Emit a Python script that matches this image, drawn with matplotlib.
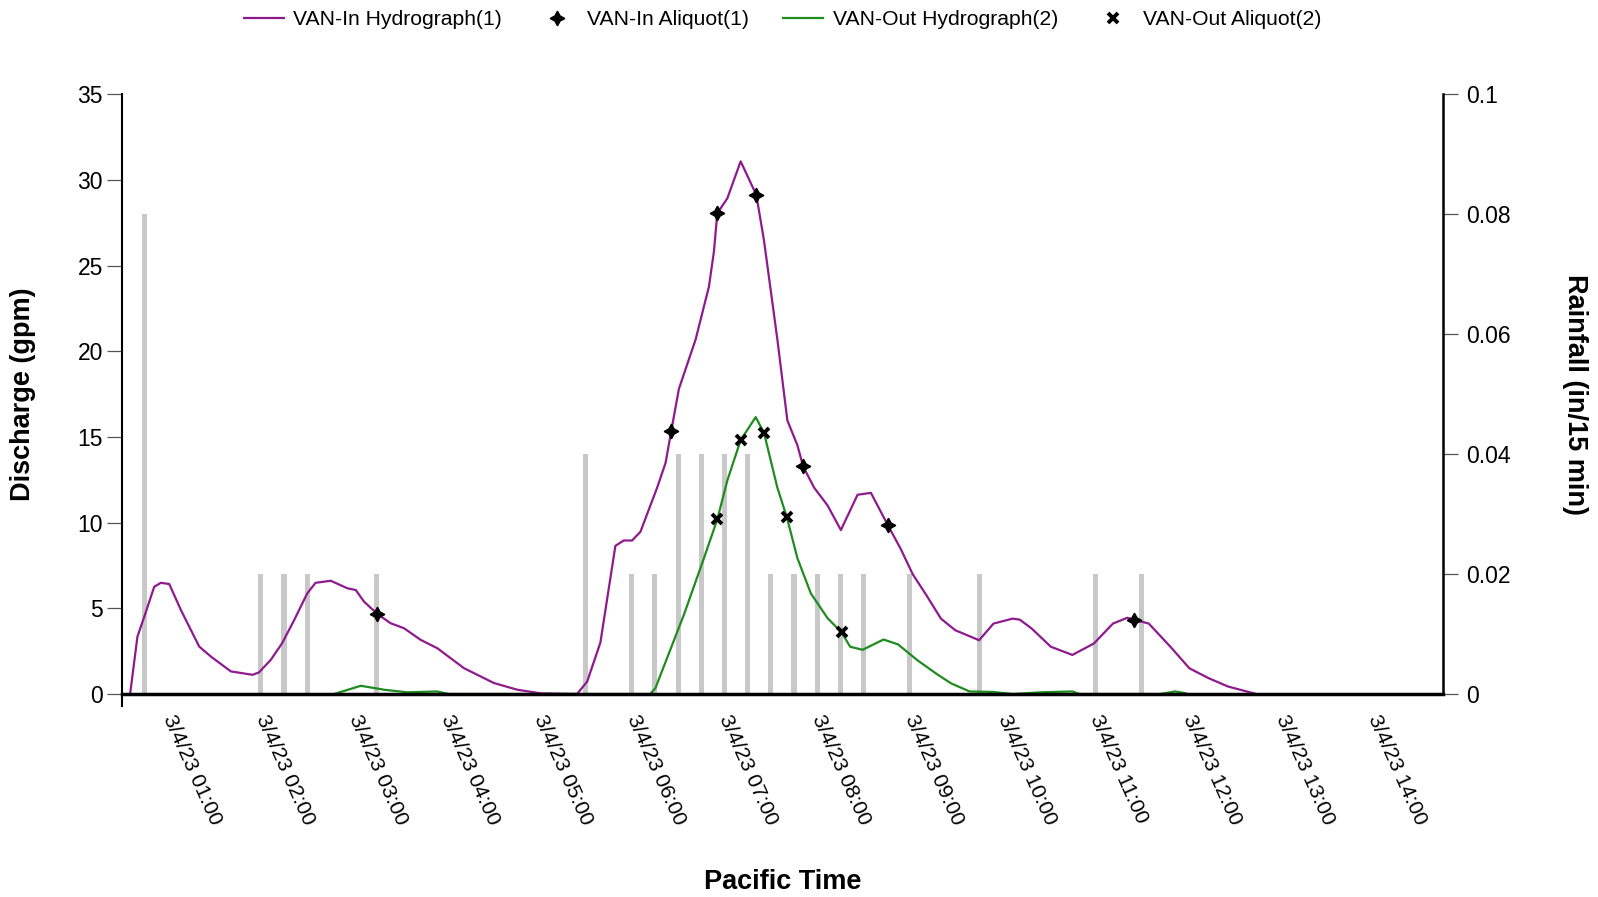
import matplotlib
matplotlib.use("Agg")
import matplotlib.pyplot as plt

plt.rcParams['font.family'] = ['Liberation Sans', 'DejaVu Sans']

# times are decimal hours of 3/4/23
in_time = [0.59, 0.669, 0.742, 0.85, 0.922, 1.012, 1.138, 1.335, 1.46, 1.677,
           1.91, 1.98, 2.108, 2.23, 2.36, 2.5, 2.59, 2.754, 2.934, 3.024,
           3.113, 3.257, 3.40, 3.544, 3.724, 3.904, 4.047, 4.19, 4.335, 4.514,
           4.766, 5.017, 5.41, 5.52, 5.662, 5.824, 5.914, 6.004, 6.094, 6.274,
           6.365, 6.426, 6.509, 6.599, 6.689, 6.833, 6.887, 6.923, 7.031, 7.175,
           7.344, 7.427, 7.571, 7.679, 7.787, 7.849, 7.968, 8.112, 8.256, 8.436,
           8.58, 8.76, 8.904, 9.03, 9.18, 9.335, 9.49, 9.747, 9.902, 10.108,
           10.186, 10.314, 10.52, 10.753, 10.985, 11.19, 11.345, 11.42, 11.577, 11.81,
           12.015, 12.22, 12.43, 12.737]
in_flow = [0, 3.35, 4.5, 6.26, 6.49, 6.42, 4.9, 2.77, 2.19, 1.32,
           1.12, 1.26, 2.0, 2.97, 4.32, 5.87, 6.49, 6.61, 6.17, 6.07,
           5.39, 4.67, 4.13, 3.84, 3.16, 2.67, 2.09, 1.51, 1.12, 0.64,
           0.25, 0.04, 0, 0.73, 3.0, 8.65, 8.96, 8.96, 9.47, 12.04,
           13.49, 15.34, 17.81, 19.25, 20.69, 23.78, 25.84, 28.06, 28.93, 31.09,
           29.13, 26.46, 20.69, 15.96, 14.52, 13.28, 12.04, 11.01, 9.57, 11.63,
           11.74, 9.88, 8.44, 7.0, 5.75, 4.40, 3.72, 3.14, 4.11, 4.40,
           4.34, 3.82, 2.76, 2.28, 2.95, 4.11, 4.45, 4.34, 4.11, 2.76,
           1.50, 0.93, 0.44, 0]

out_time = [2.79, 3.078, 3.33, 3.58, 3.9, 4.03, 6.2, 6.256, 6.563, 6.779,
            6.923, 7.031, 7.175, 7.337, 7.427, 7.571, 7.672, 7.787, 7.932, 8.112,
            8.263, 8.356, 8.49, 8.716, 8.871, 9.084, 9.3, 9.445, 9.644, 9.9,
            10.108, 10.418, 10.753, 10.83, 11.7, 11.86, 11.96, 12.0]
out_flow = [0, 0.48, 0.25, 0.1, 0.15, 0, 0, 0.35, 4.63, 7.93,
            10.19, 12.46, 14.82, 16.16, 15.24, 12.04, 10.34, 7.93, 5.87, 4.43,
            3.60, 2.76, 2.58, 3.18, 2.9, 1.96, 1.13, 0.62, 0.15, 0.12,
            0, 0.1, 0.15, 0, 0, 0.15, 0.06, 0]

in_aliq_time = [3.257, 6.426, 6.923, 7.344, 7.849, 8.76, 11.42]
in_aliq_flow = [4.67, 15.34, 28.06, 29.13, 13.28, 9.88, 4.34]
out_aliq_time = [6.923, 7.175, 7.427, 7.672, 8.263]
out_aliq_flow = [10.19, 14.82, 15.24, 10.34, 3.60]

rain_time = [0.75, 2.0, 2.25, 2.5, 3.25, 5.5, 6.0, 6.25, 6.5, 6.75, 7.0,
             7.25, 7.5, 7.75, 8.0, 8.25, 8.5, 9.0, 9.75, 11.0, 11.5]
rain = [0.08, 0.02, 0.02, 0.02, 0.02, 0.04, 0.02, 0.02, 0.04, 0.04, 0.04,
        0.04, 0.02, 0.02, 0.02, 0.02, 0.02, 0.02, 0.02, 0.02, 0.02]

hour_ticks = list(range(1, 15))
hour_labels = ["3/4/23 %02d:00" % h for h in hour_ticks]
rain_ticks = [0, 0.02, 0.04, 0.06, 0.08, 0.1]
rain_labels = ["0", "0.02", "0.04", "0.06", "0.08", "0.1"]

fig = plt.figure(figsize=(15.98, 8.97), dpi=100)
ax = fig.add_axes([0.0762, 0.2263, 0.8268, 0.6685])
ax2 = ax.twinx()
ax.set_zorder(ax2.get_zorder() + 1)
ax.patch.set_visible(False)

ax2.bar(rain_time, rain, width=0.055, color='#c8c8c8', linewidth=0)

ax.plot(in_time, in_flow, color='#8e1a8e', lw=1.6, label='VAN-In Hydrograph(1)')
ax.plot(in_aliq_time, in_aliq_flow, ls='none', marker=(4, 1, 0), ms=10.5,
        color='black', label='VAN-In Aliquot(1)')
ax.plot(out_time, out_flow, color='#1e8c1e', lw=1.6, label='VAN-Out Hydrograph(2)')
ax.plot(out_aliq_time, out_aliq_flow, ls='none', marker='x', ms=7.5, mew=2.8,
        color='black', label='VAN-Out Aliquot(2)')

ax.set_xlim(0.5, 14.75)
ax.set_ylim(0, 35)
ax2.set_ylim(0, 0.1)
ax.set_yticks(range(0, 36, 5))
ax2.set_yticks(rain_ticks)
ax2.set_yticklabels(rain_labels)
ax.set_xticks(hour_ticks)
ax.set_xticklabels(hour_labels)

ax.tick_params(axis='x', length=0, pad=16, labelsize=15.3)
plt.setp(ax.get_xticklabels(), rotation=-66, ha='left', va='center',
         rotation_mode='anchor')
ax.tick_params(axis='y', length=10.5, width=0.9, color='#555555',
               labelsize=16.5, pad=3)
ax2.tick_params(axis='y', length=10.5, width=0.9, color='#555555',
                labelsize=16.5, pad=6)

for a in (ax, ax2):
    a.spines['top'].set_visible(False)
ax.spines['left'].set_linewidth(1.5)
ax.spines['left'].set_bounds(-0.7, 35)
ax.spines['bottom'].set_linewidth(2.5)
ax2.spines['right'].set_linewidth(1.8)
ax2.spines['left'].set_visible(False)
ax2.spines['bottom'].set_visible(False)

ax.set_ylabel('Discharge (gpm)', fontsize=19.5, fontweight='bold', va='center')
ax.yaxis.set_label_coords(-0.0745, 0.5)
ax2.set_ylabel('Rainfall (in/15 min)', fontsize=19.5, fontweight='bold',
               rotation=-90, va='center')
ax2.yaxis.set_label_coords(1.1, 0.5)
ax.set_xlabel('Pacific Time', fontsize=19.5, fontweight='bold', va='center')
ax.xaxis.set_label_coords(0.5, -0.313)

ax.legend(loc='center', bbox_to_anchor=(0.5, 1.125), ncol=4, frameon=False,
          fontsize=15.2, handlelength=1.9, handletextpad=0.45, columnspacing=1.65)

fig.savefig('out.png', dpi=100)
